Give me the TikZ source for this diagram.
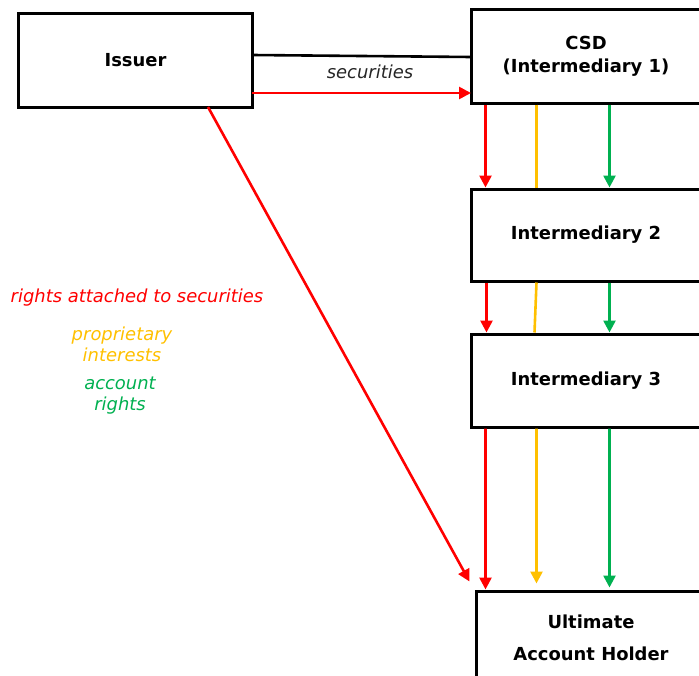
\documentclass[tikz,border=0pt]{standalone}
\usepackage{fontspec}
\setmainfont{DejaVu Sans}
\usetikzlibrary{arrows.meta,calc}
\definecolor{cred}{HTML}{FF0000}
\definecolor{corange}{HTML}{FFC000}
\definecolor{cgreen}{HTML}{00B050}
\begin{document}
\begin{tikzpicture}[x=1bp,y=-1bp,
  boxnode/.style={draw=black,line width=3bp,fill=white,minimum width=230bp,minimum height=93bp,inner sep=0pt,align=center,font=\fontsize{18}{23}\selectfont\bfseries},
  conn/.style={line width=2.6bp},
  arr/.style={line width=2.6bp,-{Triangle[length=12bp,width=12bp]}},
  lbl/.style={font=\fontsize{18}{21}\selectfont\itshape,align=center,inner sep=0pt}]
\useasboundingbox (0,0) rectangle (699,676);
\clip (0,0) rectangle (699,676);
\node[boxnode,minimum width=233bp] (issuer) at (135.5,60.5) {Issuer};
\node[boxnode] (csd) at (586,56.5) {CSD\\(Intermediary 1)};
\node[boxnode,minimum height=92bp] (i2) at (586,235) {Intermediary 2};
\node[boxnode] (i3) at (586,380.5) {Intermediary 3};
\node[boxnode,font=\fontsize{18}{32}\selectfont\bfseries] (uah) at (591,637.5) {Ultimate\\Account Holder};
% top connectors
\coordinate (s1) at (252,55);
\coordinate (s2) at (471,57);
\draw[conn,black] (s1) -- (s2);
\coordinate (r1) at (252,93);
\coordinate (r2) at (471,93);
\draw[arr,cred] (r1) -- (r2);
\node[lbl,text=black!85] (sec) at (370,72) {securities};
% diagonal
\coordinate (d1) at (208,107);
\draw[arr,cred] (d1) -- ([xshift=-5bp,yshift=8bp]uah.north west);
% CSD -> I2
\draw[arr,cred] ([xshift=16bp]csd.south west) -- ([xshift=16bp]i2.north west);
\draw[conn,corange] ([xshift=67bp]csd.south west) -- ([xshift=67bp]i2.north west);
\draw[arr,cgreen] ([xshift=140bp]csd.south west) -- ([xshift=140bp]i2.north west);
% I2 -> I3
\draw[arr,cred] ([xshift=17bp]i2.south west) -- ([xshift=17bp]i3.north west);
\draw[conn,corange] ([xshift=67bp]i2.south west) -- ([xshift=65bp]i3.north west);
\draw[arr,cgreen] ([xshift=140bp]i2.south west) -- ([xshift=140bp]i3.north west);
% I3 -> UAH
\draw[arr,cred] ([xshift=16bp]i3.south west) -- ([xshift=11bp]uah.north west);
\draw[arr,corange] ([xshift=67bp]i3.south west) -- ([xshift=62bp,yshift=6bp]uah.north west);
\draw[arr,cgreen] ([xshift=140bp]i3.south west) -- ([xshift=135bp,yshift=2bp]uah.north west);
% legend
\node[lbl,text=cred] (l1) at (137,298) {rights attached to securities};
\node[lbl,text=corange] (l2) at (122,344.5) {proprietary\\interests};
\node[lbl,text=cgreen] (l3) at (120,395.5) {account\\rights};
\end{tikzpicture}
\end{document}
